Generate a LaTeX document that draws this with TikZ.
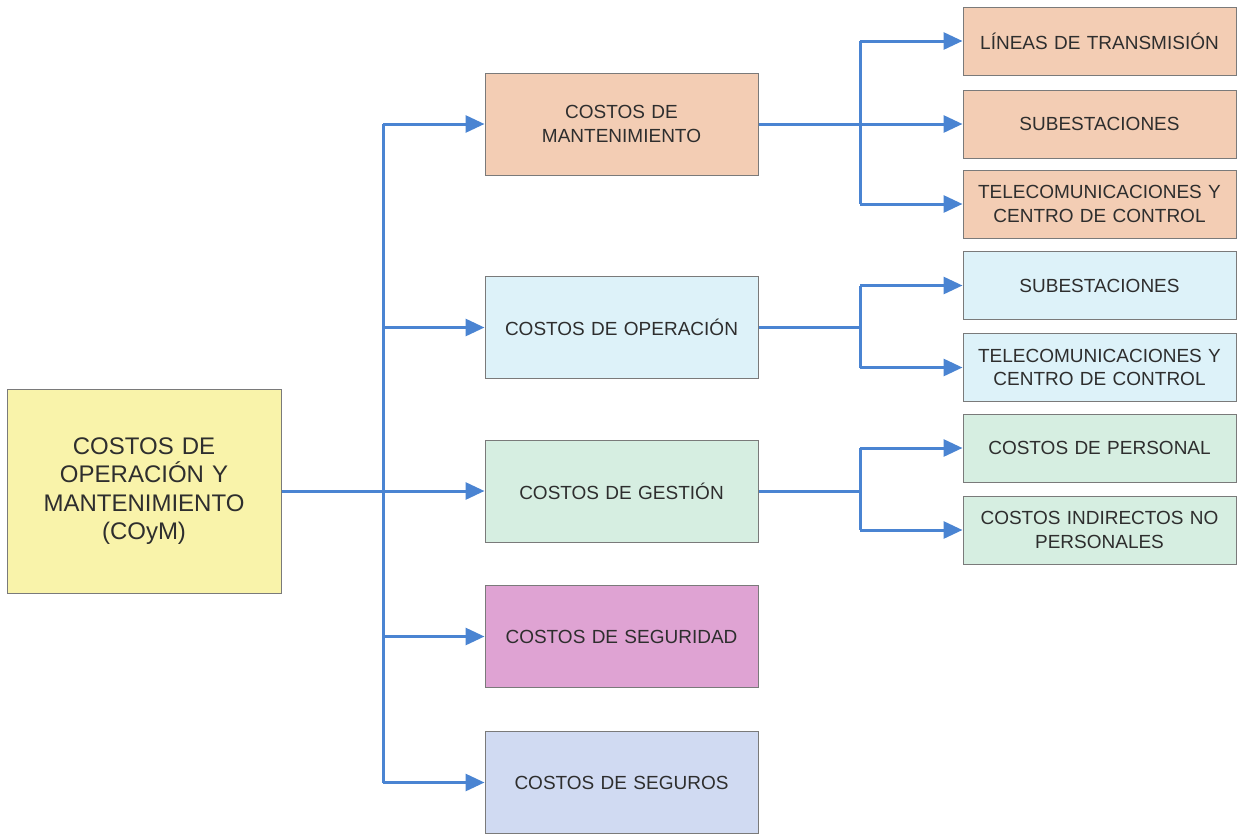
\documentclass[tikz,border=0pt]{standalone}
\usepackage{fontspec}
\setmainfont{Liberation Sans}
\usetikzlibrary{arrows.meta,calc}
\definecolor{cyel}{HTML}{F9F3AA}
\definecolor{csal}{HTML}{F3CDB4}
\definecolor{ccya}{HTML}{DDF2F9}
\definecolor{cgrn}{HTML}{D6EEE1}
\definecolor{cpnk}{HTML}{DFA3D3}
\definecolor{clav}{HTML}{D0DAF2}
\definecolor{cblue}{HTML}{4A84D2}
\definecolor{cbord}{HTML}{7A7A7A}
\definecolor{ctext}{HTML}{2E2E2E}
\begin{document}
\begin{tikzpicture}[x=1pt,y=-1pt,
  box/.style={draw=cbord,line width=1pt,inner sep=0pt,align=center,text=ctext,
    font=\fontsize{19}{23.5}\selectfont},
  midbox/.style={box,minimum width=273pt,minimum height=102pt,text width=260pt},
  rbox/.style={box,minimum width=273pt,minimum height=68pt,text width=265pt},
  conn/.style={draw=cblue,line width=3pt},
  arr/.style={conn,-{Triangle[length=19pt,width=17pt]}}]
\useasboundingbox (0,0) rectangle (1237,833);
% main
\node[box,fill=cyel,minimum width=274pt,minimum height=204pt,text width=260pt,
  font=\fontsize{24}{28.5}\selectfont] (main) at (144,491)
  {COSTOS DE\\OPERACIÓN Y\\MANTENIMIENTO\\(COyM)};
% middle column
\node[midbox,fill=csal] (mant) at (621.5,124) {COSTOS DE\\MANTENIMIENTO};
\node[midbox,fill=ccya] (oper) at (621.5,327.5) {COSTOS DE OPERACIÓN};
\node[midbox,fill=cgrn] (gest) at (621.5,491) {COSTOS DE GESTIÓN};
\node[midbox,fill=cpnk] (segu) at (621.5,636.5) {COSTOS DE SEGURIDAD};
\node[midbox,fill=clav] (segr) at (621.5,782.5) {COSTOS DE SEGUROS};
% right column
\node[rbox,fill=csal] (lin) at (1099.5,41) {LÍNEAS DE TRANSMISIÓN};
\node[rbox,fill=csal] (sub1) at (1099.5,124) {SUBESTACIONES};
\node[rbox,fill=csal] (tel1) at (1099.5,204) {TELECOMUNICACIONES Y\\CENTRO DE CONTROL};
\node[rbox,fill=ccya] (sub2) at (1099.5,285.5) {SUBESTACIONES};
\node[rbox,fill=ccya] (tel2) at (1099.5,367.5) {TELECOMUNICACIONES Y\\CENTRO DE CONTROL};
\node[rbox,fill=cgrn] (pers) at (1099.5,448) {COSTOS DE PERSONAL};
\node[rbox,fill=cgrn] (indi) at (1099.5,530) {COSTOS INDIRECTOS NO\\PERSONALES};
% spines
\coordinate (sp) at (383,491);
\coordinate (rs) at (860,0);
% main connectors
\draw[conn] (sp |- mant.west) -- (sp |- segr.west);
\draw[arr] (main.east) -- (gest.west);
\draw[arr] (sp |- mant.west) -- (mant.west);
\draw[arr] (sp |- oper.west) -- (oper.west);
\draw[arr] (sp |- segu.west) -- (segu.west);
\draw[arr] (sp |- segr.west) -- (segr.west);
% maintenance group
\draw[conn] (rs |- lin.west) -- (rs |- tel1.west);
\draw[arr] (mant.east) -- (sub1.west);
\draw[arr] (rs |- lin.west) -- (lin.west);
\draw[arr] (rs |- tel1.west) -- (tel1.west);
% operation group
\draw[conn] (oper.east) -- (rs |- oper.east);
\draw[conn] (rs |- sub2.west) -- (rs |- tel2.west);
\draw[arr] (rs |- sub2.west) -- (sub2.west);
\draw[arr] (rs |- tel2.west) -- (tel2.west);
% management group
\draw[conn] (gest.east) -- (rs |- gest.east);
\draw[conn] (rs |- pers.west) -- (rs |- indi.west);
\draw[arr] (rs |- pers.west) -- (pers.west);
\draw[arr] (rs |- indi.west) -- (indi.west);
\end{tikzpicture}
\end{document}
